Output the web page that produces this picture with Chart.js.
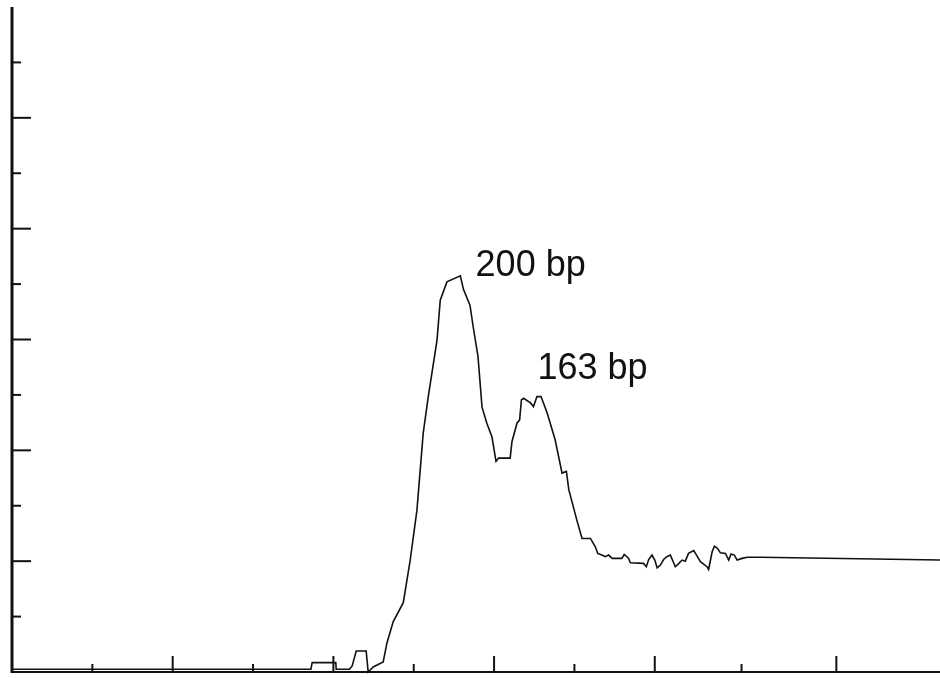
<!DOCTYPE html>
<html>
<head>
<meta charset="utf-8">
<style>
  html, body { margin: 0; padding: 0; background: #fff; }
  canvas { display: block; }
</style>
<script src="https://cdn.jsdelivr.net/npm/chart.js@4.4.1/dist/chart.umd.min.js"></script>
</head>
<body>
<canvas id="trace-chart" width="940" height="678"></canvas>
<script>
// scan position (tick units) and signal (tick units)
const scanPos = [
  0, 3.72, 3.736, 4.03, 4.035, 4.2, 4.234, 4.284, 4.408, 4.433, 4.496, 4.62, 4.666, 4.745,
  4.87, 4.956, 5.04, 5.118, 5.18, 5.29, 5.33, 5.413, 5.58, 5.62, 5.7, 5.74, 5.8, 5.85,
  5.91, 5.974, 6.024, 6.056, 6.2, 6.223, 6.285, 6.318, 6.34, 6.367, 6.45, 6.49, 6.534,
  6.584, 6.66, 6.76, 6.846, 6.9, 6.93, 7.03, 7.095, 7.2, 7.26, 7.29, 7.34, 7.385, 7.426,
  7.47, 7.59, 7.62, 7.675, 7.696, 7.86, 7.895, 7.924, 7.966, 8.0, 8.03, 8.07, 8.11, 8.15,
  8.194, 8.256, 8.3, 8.34, 8.38, 8.42, 8.485, 8.527, 8.568, 8.65, 8.67, 8.714, 8.742,
  8.78, 8.817, 8.88, 8.92, 8.95, 8.99, 9.025, 9.087, 9.15, 9.315, 11.55
];
const signal = [
  0.05, 0.05, 0.17, 0.17, 0.05, 0.05, 0.11, 0.38, 0.38, 0.0, 0.09, 0.18, 0.52, 0.91,
  1.25, 2.02, 2.92, 4.31, 4.96, 5.99, 6.71, 7.04, 7.15, 6.9, 6.62, 6.23, 5.69, 4.78,
  4.49, 4.24, 3.8, 3.86, 3.86, 4.16, 4.49, 4.55, 4.91, 4.94, 4.86, 4.79, 4.97,
  4.97, 4.68, 4.19, 3.59, 3.62, 3.29, 2.74, 2.41, 2.41, 2.26, 2.14, 2.11, 2.08, 2.11,
  2.05, 2.05, 2.12, 2.05, 1.97, 1.96, 1.9, 2.03, 2.11, 2.02, 1.88, 1.93, 2.03, 2.08,
  2.11, 1.9, 1.96, 2.02, 2.0, 2.14, 2.19, 2.09, 1.99, 1.9, 1.85, 2.17, 2.27,
  2.23, 2.15, 2.14, 2.02, 2.13, 2.11, 2.02, 2.05, 2.07, 2.07, 2.02
];

// axis ticks (the scan's x ticks are not evenly spaced)
const xTicks = [1, 2, 3, 4, 5, 6, 7, 8, 9.08, 10.26];
const yTicks = [1, 2, 3, 4, 5, 6, 7, 8, 9, 10, 11];

// peak labels: text, and where the text starts (data units, baseline)
const peakLabels = ["200 bp", "163 bp"];
const peakLabelX = [5.77, 6.54];
const peakLabelY = [7.15, 5.28];

const points = scanPos.map((x, i) => ({ x: x, y: signal[i] }));

// draws the framed axes with inside ticks, plus the peak labels
const axesPlugin = {
  id: "axesPlugin",
  afterDatasetsDraw(chart) {
    const { ctx, chartArea } = chart;
    const xs = chart.scales.x;
    const ys = chart.scales.y;
    ctx.save();
    ctx.strokeStyle = "#111";
    ctx.lineCap = "butt";

    // y axis
    ctx.lineWidth = 3;
    ctx.beginPath();
    ctx.moveTo(chartArea.left, chartArea.top);
    ctx.lineTo(chartArea.left, chartArea.bottom + 1);
    ctx.stroke();

    // x axis
    ctx.lineWidth = 2;
    ctx.beginPath();
    ctx.moveTo(chartArea.left, chartArea.bottom);
    ctx.lineTo(chartArea.right, chartArea.bottom);
    ctx.stroke();

    ctx.lineWidth = 2;
    yTicks.forEach((v) => {
      const py = ys.getPixelForValue(v);
      const len = v % 2 === 0 ? 19 : 9;
      ctx.beginPath();
      ctx.moveTo(chartArea.left, py);
      ctx.lineTo(chartArea.left + len, py);
      ctx.stroke();
    });
    xTicks.forEach((v, i) => {
      const px = xs.getPixelForValue(v);
      const len = i % 2 === 1 ? 16 : 8;
      ctx.beginPath();
      ctx.moveTo(px, chartArea.bottom);
      ctx.lineTo(px, chartArea.bottom - len);
      ctx.stroke();
    });

    ctx.fillStyle = "#111";
    ctx.font = '36px "Liberation Sans", Arial, sans-serif';
    ctx.textBaseline = "alphabetic";
    ctx.textAlign = "left";
    peakLabels.forEach((t, i) => {
      ctx.fillText(t, xs.getPixelForValue(peakLabelX[i]), ys.getPixelForValue(peakLabelY[i]));
    });
    ctx.restore();
  },
};

const ctx = document.getElementById("trace-chart").getContext("2d");
new Chart(ctx, {
  type: "line",
  data: {
    datasets: [
      {
        data: points,
        borderColor: "#111",
        borderWidth: 1.6,
        pointRadius: 0,
        tension: 0,
        fill: false,
        clip: false,
      },
    ],
  },
  options: {
    responsive: false,
    animation: false,
    devicePixelRatio: 1,
    layout: { padding: { left: 12, right: 0, top: 7, bottom: 6 } },
    plugins: { legend: { display: false }, tooltip: { enabled: false } },
    scales: {
      x: { type: "linear", min: 0, max: 11.55, display: false },
      y: { type: "linear", min: 0, max: 12, display: false },
    },
  },
  plugins: [axesPlugin],
});
</script>
</body>
</html>
